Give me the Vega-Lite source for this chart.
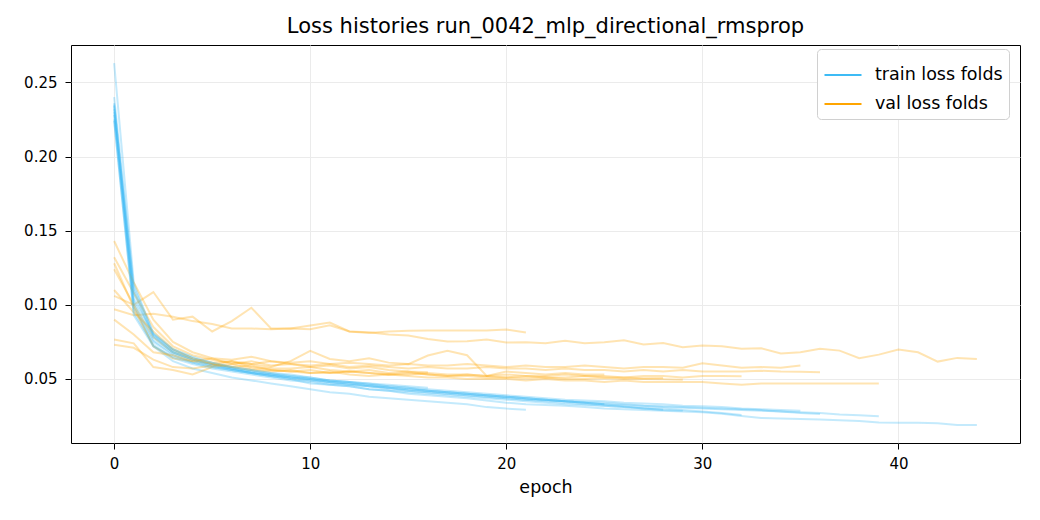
{
  "$schema": "https://vega.github.io/schema/vega-lite/v6.json",
  "width": 949,
  "height": 398,
  "autosize": "none",
  "padding": {"left": 71, "top": 45, "right": 20, "bottom": 77},
  "title": {"text": "Loss histories run_0042_mlp_directional_rmsprop", "fontSize": 21, "font": "DejaVu Sans", "fontWeight": "normal", "color": "black", "offset": 8},
  "data": {
    "values": [
      {"fold":1,"epoch":0,"train":0.230,"val":0.106},{"fold":1,"epoch":1,"train":0.100,"val":0.100},{"fold":1,"epoch":2,"train":0.072,"val":0.1086},{"fold":1,"epoch":3,"train":0.062,"val":0.090},{"fold":1,"epoch":4,"train":0.057,"val":0.092},{"fold":1,"epoch":5,"train":0.054,"val":0.082},{"fold":1,"epoch":6,"train":0.051,"val":0.089},{"fold":1,"epoch":7,"train":0.049,"val":0.098},{"fold":1,"epoch":8,"train":0.047,"val":0.084},{"fold":1,"epoch":9,"train":0.045,"val":0.084},{"fold":1,"epoch":10,"train":0.043,"val":0.086},{"fold":1,"epoch":11,"train":0.041,"val":0.088},{"fold":1,"epoch":12,"train":0.040,"val":0.082},{"fold":1,"epoch":13,"train":0.038,"val":0.081},{"fold":1,"epoch":14,"train":0.037,"val":0.082},{"fold":1,"epoch":15,"train":0.036,"val":0.0825},{"fold":1,"epoch":16,"train":0.035,"val":0.0826},{"fold":1,"epoch":17,"train":0.034,"val":0.0826},{"fold":1,"epoch":18,"train":0.033,"val":0.0826},{"fold":1,"epoch":19,"train":0.031,"val":0.0826},{"fold":1,"epoch":20,"train":0.030,"val":0.0833},{"fold":1,"epoch":21,"train":0.0293,"val":0.0813},

      {"fold":2,"epoch":0,"train":0.263,"val":0.097},{"fold":2,"epoch":1,"train":0.115,"val":0.093},{"fold":2,"epoch":2,"train":0.080,"val":0.094},{"fold":2,"epoch":3,"train":0.070,"val":0.092},{"fold":2,"epoch":4,"train":0.064,"val":0.089},{"fold":2,"epoch":5,"train":0.060,"val":0.087},{"fold":2,"epoch":6,"train":0.057,"val":0.084},{"fold":2,"epoch":7,"train":0.054,"val":0.084},{"fold":2,"epoch":8,"train":0.052,"val":0.0835},{"fold":2,"epoch":9,"train":0.050,"val":0.084},{"fold":2,"epoch":10,"train":0.047,"val":0.0835},{"fold":2,"epoch":11,"train":0.046,"val":0.0862},{"fold":2,"epoch":12,"train":0.045,"val":0.082},{"fold":2,"epoch":13,"train":0.043,"val":0.0815},{"fold":2,"epoch":14,"train":0.042,"val":0.080},{"fold":2,"epoch":15,"train":0.040,"val":0.0793},{"fold":2,"epoch":16,"train":0.039,"val":0.077},{"fold":2,"epoch":17,"train":0.038,"val":0.0752},{"fold":2,"epoch":18,"train":0.037,"val":0.0755},{"fold":2,"epoch":19,"train":0.0355,"val":0.0766},{"fold":2,"epoch":20,"train":0.034,"val":0.0745},{"fold":2,"epoch":21,"train":0.033,"val":0.0748},{"fold":2,"epoch":22,"train":0.0325,"val":0.0741},{"fold":2,"epoch":23,"train":0.032,"val":0.0757},{"fold":2,"epoch":24,"train":0.031,"val":0.0741},{"fold":2,"epoch":25,"train":0.030,"val":0.0748},{"fold":2,"epoch":26,"train":0.0295,"val":0.0761},{"fold":2,"epoch":27,"train":0.029,"val":0.0732},{"fold":2,"epoch":28,"train":0.0285,"val":0.0743},{"fold":2,"epoch":29,"train":0.028,"val":0.0714},{"fold":2,"epoch":30,"train":0.0275,"val":0.0725},{"fold":2,"epoch":31,"train":0.0265,"val":0.0721},{"fold":2,"epoch":32,"train":0.025,"val":0.0703},{"fold":2,"epoch":33,"train":0.0237,"val":0.0707},{"fold":2,"epoch":34,"train":0.0234,"val":0.0672},{"fold":2,"epoch":35,"train":0.023,"val":0.068},{"fold":2,"epoch":36,"train":0.0227,"val":0.0703},{"fold":2,"epoch":37,"train":0.0222,"val":0.0691},{"fold":2,"epoch":38,"train":0.0217,"val":0.064},{"fold":2,"epoch":39,"train":0.0207,"val":0.0664},{"fold":2,"epoch":40,"train":0.0205,"val":0.0698},{"fold":2,"epoch":41,"train":0.0204,"val":0.068},{"fold":2,"epoch":42,"train":0.0202,"val":0.0617},{"fold":2,"epoch":43,"train":0.019,"val":0.0642},{"fold":2,"epoch":44,"train":0.0189,"val":0.0635},

      {"fold":3,"epoch":0,"train":0.228,"val":0.124},{"fold":3,"epoch":1,"train":0.098,"val":0.100},{"fold":3,"epoch":2,"train":0.075,"val":0.078},{"fold":3,"epoch":3,"train":0.066,"val":0.068},{"fold":3,"epoch":4,"train":0.061,"val":0.063},{"fold":3,"epoch":5,"train":0.058,"val":0.060},{"fold":3,"epoch":6,"train":0.056,"val":0.058},{"fold":3,"epoch":7,"train":0.054,"val":0.059},{"fold":3,"epoch":8,"train":0.052,"val":0.056},{"fold":3,"epoch":9,"train":0.050,"val":0.055},{"fold":3,"epoch":10,"train":0.049,"val":0.054},{"fold":3,"epoch":11,"train":0.047,"val":0.055},{"fold":3,"epoch":12,"train":0.046,"val":0.053},{"fold":3,"epoch":13,"train":0.045,"val":0.052},{"fold":3,"epoch":14,"train":0.044,"val":0.053},{"fold":3,"epoch":15,"train":0.042,"val":0.052},{"fold":3,"epoch":16,"train":0.041,"val":0.051},{"fold":3,"epoch":17,"train":0.040,"val":0.051},{"fold":3,"epoch":18,"train":0.039,"val":0.050},{"fold":3,"epoch":19,"train":0.038,"val":0.050},{"fold":3,"epoch":20,"train":0.037,"val":0.050},{"fold":3,"epoch":21,"train":0.036,"val":0.049},{"fold":3,"epoch":22,"train":0.0355,"val":0.050},{"fold":3,"epoch":23,"train":0.035,"val":0.049},{"fold":3,"epoch":24,"train":0.034,"val":0.049},{"fold":3,"epoch":25,"train":0.033,"val":0.048},{"fold":3,"epoch":26,"train":0.0325,"val":0.049},{"fold":3,"epoch":27,"train":0.032,"val":0.048},{"fold":3,"epoch":28,"train":0.031,"val":0.048},{"fold":3,"epoch":29,"train":0.0305,"val":0.048},{"fold":3,"epoch":30,"train":0.030,"val":0.048},{"fold":3,"epoch":31,"train":0.0295,"val":0.047},{"fold":3,"epoch":32,"train":0.029,"val":0.046},{"fold":3,"epoch":33,"train":0.0285,"val":0.047},{"fold":3,"epoch":34,"train":0.028,"val":0.047},{"fold":3,"epoch":35,"train":0.0275,"val":0.047},{"fold":3,"epoch":36,"train":0.027,"val":0.047},{"fold":3,"epoch":37,"train":0.026,"val":0.047},{"fold":3,"epoch":38,"train":0.0255,"val":0.047},{"fold":3,"epoch":39,"train":0.0248,"val":0.047},

      {"fold":4,"epoch":0,"train":0.235,"val":0.132},{"fold":4,"epoch":1,"train":0.108,"val":0.108},{"fold":4,"epoch":2,"train":0.078,"val":0.085},{"fold":4,"epoch":3,"train":0.068,"val":0.072},{"fold":4,"epoch":4,"train":0.063,"val":0.066},{"fold":4,"epoch":5,"train":0.060,"val":0.063},{"fold":4,"epoch":6,"train":0.057,"val":0.061},{"fold":4,"epoch":7,"train":0.055,"val":0.060},{"fold":4,"epoch":8,"train":0.053,"val":0.062},{"fold":4,"epoch":9,"train":0.052,"val":0.060},{"fold":4,"epoch":10,"train":0.050,"val":0.059},{"fold":4,"epoch":11,"train":0.048,"val":0.060},{"fold":4,"epoch":12,"train":0.047,"val":0.058},{"fold":4,"epoch":13,"train":0.046,"val":0.059},{"fold":4,"epoch":14,"train":0.044,"val":0.058},{"fold":4,"epoch":15,"train":0.043,"val":0.057},{"fold":4,"epoch":16,"train":0.042,"val":0.058},{"fold":4,"epoch":17,"train":0.041,"val":0.057},{"fold":4,"epoch":18,"train":0.040,"val":0.057},{"fold":4,"epoch":19,"train":0.039,"val":0.058},{"fold":4,"epoch":20,"train":0.038,"val":0.057},{"fold":4,"epoch":21,"train":0.037,"val":0.057},{"fold":4,"epoch":22,"train":0.036,"val":0.056},{"fold":4,"epoch":23,"train":0.035,"val":0.057},{"fold":4,"epoch":24,"train":0.0345,"val":0.056},{"fold":4,"epoch":25,"train":0.034,"val":0.056},{"fold":4,"epoch":26,"train":0.033,"val":0.055},{"fold":4,"epoch":27,"train":0.032,"val":0.056},{"fold":4,"epoch":28,"train":0.0315,"val":0.055},{"fold":4,"epoch":29,"train":0.031,"val":0.056},{"fold":4,"epoch":30,"train":0.0305,"val":0.055},{"fold":4,"epoch":31,"train":0.030,"val":0.055},{"fold":4,"epoch":32,"train":0.0295,"val":0.055},{"fold":4,"epoch":33,"train":0.029,"val":0.0555},{"fold":4,"epoch":34,"train":0.028,"val":0.055},{"fold":4,"epoch":35,"train":0.027,"val":0.0548},{"fold":4,"epoch":36,"train":0.0264,"val":0.0545},

      {"fold":5,"epoch":0,"train":0.232,"val":0.143},{"fold":5,"epoch":1,"train":0.104,"val":0.115},{"fold":5,"epoch":2,"train":0.080,"val":0.090},{"fold":5,"epoch":3,"train":0.069,"val":0.075},{"fold":5,"epoch":4,"train":0.064,"val":0.068},{"fold":5,"epoch":5,"train":0.061,"val":0.064},{"fold":5,"epoch":6,"train":0.058,"val":0.063},{"fold":5,"epoch":7,"train":0.056,"val":0.065},{"fold":5,"epoch":8,"train":0.054,"val":0.062},{"fold":5,"epoch":9,"train":0.053,"val":0.061},{"fold":5,"epoch":10,"train":0.051,"val":0.062},{"fold":5,"epoch":11,"train":0.049,"val":0.060},{"fold":5,"epoch":12,"train":0.048,"val":0.061},{"fold":5,"epoch":13,"train":0.047,"val":0.060},{"fold":5,"epoch":14,"train":0.045,"val":0.059},{"fold":5,"epoch":15,"train":0.044,"val":0.060},{"fold":5,"epoch":16,"train":0.043,"val":0.059},{"fold":5,"epoch":17,"train":0.042,"val":0.059},{"fold":5,"epoch":18,"train":0.041,"val":0.060},{"fold":5,"epoch":19,"train":0.040,"val":0.059},{"fold":5,"epoch":20,"train":0.039,"val":0.058},{"fold":5,"epoch":21,"train":0.038,"val":0.059},{"fold":5,"epoch":22,"train":0.037,"val":0.058},{"fold":5,"epoch":23,"train":0.036,"val":0.058},{"fold":5,"epoch":24,"train":0.0355,"val":0.059},{"fold":5,"epoch":25,"train":0.035,"val":0.058},{"fold":5,"epoch":26,"train":0.034,"val":0.057},{"fold":5,"epoch":27,"train":0.0335,"val":0.058},{"fold":5,"epoch":28,"train":0.033,"val":0.058},{"fold":5,"epoch":29,"train":0.032,"val":0.0575},{"fold":5,"epoch":30,"train":0.0315,"val":0.0605},{"fold":5,"epoch":31,"train":0.031,"val":0.059},{"fold":5,"epoch":32,"train":0.030,"val":0.0575},{"fold":5,"epoch":33,"train":0.0295,"val":0.058},{"fold":5,"epoch":34,"train":0.029,"val":0.0575},{"fold":5,"epoch":35,"train":0.0286,"val":0.059},

      {"fold":6,"epoch":0,"train":0.224,"val":0.128},{"fold":6,"epoch":1,"train":0.095,"val":0.098},{"fold":6,"epoch":2,"train":0.073,"val":0.072},{"fold":6,"epoch":3,"train":0.064,"val":0.064},{"fold":6,"epoch":4,"train":0.060,"val":0.062},{"fold":6,"epoch":5,"train":0.057,"val":0.060},{"fold":6,"epoch":6,"train":0.055,"val":0.058},{"fold":6,"epoch":7,"train":0.053,"val":0.056},{"fold":6,"epoch":8,"train":0.051,"val":0.055},{"fold":6,"epoch":9,"train":0.049,"val":0.056},{"fold":6,"epoch":10,"train":0.048,"val":0.054},{"fold":6,"epoch":11,"train":0.046,"val":0.054},{"fold":6,"epoch":12,"train":0.045,"val":0.055},{"fold":6,"epoch":13,"train":0.043,"val":0.054},{"fold":6,"epoch":14,"train":0.042,"val":0.053},{"fold":6,"epoch":15,"train":0.041,"val":0.053},{"fold":6,"epoch":16,"train":0.040,"val":0.054},{"fold":6,"epoch":17,"train":0.039,"val":0.053},{"fold":6,"epoch":18,"train":0.038,"val":0.053},{"fold":6,"epoch":19,"train":0.037,"val":0.052},{"fold":6,"epoch":20,"train":0.036,"val":0.053},{"fold":6,"epoch":21,"train":0.035,"val":0.052},{"fold":6,"epoch":22,"train":0.034,"val":0.052},{"fold":6,"epoch":23,"train":0.033,"val":0.053},{"fold":6,"epoch":24,"train":0.0325,"val":0.052},{"fold":6,"epoch":25,"train":0.032,"val":0.052},{"fold":6,"epoch":26,"train":0.031,"val":0.051},{"fold":6,"epoch":27,"train":0.0305,"val":0.052},{"fold":6,"epoch":28,"train":0.030,"val":0.052},{"fold":6,"epoch":29,"train":0.029,"val":0.051},{"fold":6,"epoch":30,"train":0.028,"val":0.052},{"fold":6,"epoch":31,"train":0.027,"val":0.052},{"fold":6,"epoch":32,"train":0.0257,"val":0.0518},

      {"fold":7,"epoch":0,"train":0.234,"val":0.110},{"fold":7,"epoch":1,"train":0.110,"val":0.095},{"fold":7,"epoch":2,"train":0.079,"val":0.082},{"fold":7,"epoch":3,"train":0.068,"val":0.070},{"fold":7,"epoch":4,"train":0.063,"val":0.064},{"fold":7,"epoch":5,"train":0.059,"val":0.061},{"fold":7,"epoch":6,"train":0.057,"val":0.062},{"fold":7,"epoch":7,"train":0.055,"val":0.058},{"fold":7,"epoch":8,"train":0.053,"val":0.057},{"fold":7,"epoch":9,"train":0.051,"val":0.057},{"fold":7,"epoch":10,"train":0.050,"val":0.058},{"fold":7,"epoch":11,"train":0.048,"val":0.056},{"fold":7,"epoch":12,"train":0.047,"val":0.055},{"fold":7,"epoch":13,"train":0.045,"val":0.056},{"fold":7,"epoch":14,"train":0.044,"val":0.054},{"fold":7,"epoch":15,"train":0.043,"val":0.055},{"fold":7,"epoch":16,"train":0.042,"val":0.053},{"fold":7,"epoch":17,"train":0.041,"val":0.052},{"fold":7,"epoch":18,"train":0.040,"val":0.052},{"fold":7,"epoch":19,"train":0.039,"val":0.051},{"fold":7,"epoch":20,"train":0.038,"val":0.051},{"fold":7,"epoch":21,"train":0.037,"val":0.0505},{"fold":7,"epoch":22,"train":0.036,"val":0.051},{"fold":7,"epoch":23,"train":0.035,"val":0.050},{"fold":7,"epoch":24,"train":0.034,"val":0.050},{"fold":7,"epoch":25,"train":0.033,"val":0.0505},{"fold":7,"epoch":26,"train":0.0315,"val":0.050},{"fold":7,"epoch":27,"train":0.030,"val":0.050},{"fold":7,"epoch":28,"train":0.029,"val":0.0498},{"fold":7,"epoch":29,"train":0.0286,"val":0.0495},

      {"fold":8,"epoch":0,"train":0.236,"val":0.0766},{"fold":8,"epoch":1,"train":0.102,"val":0.074},{"fold":8,"epoch":2,"train":0.076,"val":0.058},{"fold":8,"epoch":3,"train":0.067,"val":0.056},{"fold":8,"epoch":4,"train":0.062,"val":0.053},{"fold":8,"epoch":5,"train":0.059,"val":0.058},{"fold":8,"epoch":6,"train":0.056,"val":0.060},{"fold":8,"epoch":7,"train":0.054,"val":0.057},{"fold":8,"epoch":8,"train":0.052,"val":0.056},{"fold":8,"epoch":9,"train":0.051,"val":0.055},{"fold":8,"epoch":10,"train":0.049,"val":0.056},{"fold":8,"epoch":11,"train":0.048,"val":0.054},{"fold":8,"epoch":12,"train":0.046,"val":0.055},{"fold":8,"epoch":13,"train":0.045,"val":0.054},{"fold":8,"epoch":14,"train":0.043,"val":0.053},{"fold":8,"epoch":15,"train":0.042,"val":0.054},{"fold":8,"epoch":16,"train":0.041,"val":0.053},{"fold":8,"epoch":17,"train":0.040,"val":0.052},{"fold":8,"epoch":18,"train":0.039,"val":0.053},{"fold":8,"epoch":19,"train":0.038,"val":0.052},{"fold":8,"epoch":20,"train":0.037,"val":0.051},{"fold":8,"epoch":21,"train":0.036,"val":0.052},{"fold":8,"epoch":22,"train":0.035,"val":0.051},{"fold":8,"epoch":23,"train":0.034,"val":0.051},{"fold":8,"epoch":24,"train":0.033,"val":0.052},{"fold":8,"epoch":25,"train":0.032,"val":0.051},{"fold":8,"epoch":26,"train":0.031,"val":0.051},{"fold":8,"epoch":27,"train":0.030,"val":0.0505},{"fold":8,"epoch":28,"train":0.0292,"val":0.0507},

      {"fold":9,"epoch":0,"train":0.225,"val":0.090},{"fold":9,"epoch":1,"train":0.093,"val":0.080},{"fold":9,"epoch":2,"train":0.072,"val":0.068},{"fold":9,"epoch":3,"train":0.065,"val":0.066},{"fold":9,"epoch":4,"train":0.061,"val":0.062},{"fold":9,"epoch":5,"train":0.058,"val":0.064},{"fold":9,"epoch":6,"train":0.056,"val":0.060},{"fold":9,"epoch":7,"train":0.054,"val":0.062},{"fold":9,"epoch":8,"train":0.053,"val":0.059},{"fold":9,"epoch":9,"train":0.051,"val":0.060},{"fold":9,"epoch":10,"train":0.050,"val":0.058},{"fold":9,"epoch":11,"train":0.049,"val":0.059},{"fold":9,"epoch":12,"train":0.048,"val":0.057},{"fold":9,"epoch":13,"train":0.047,"val":0.058},{"fold":9,"epoch":14,"train":0.046,"val":0.056},{"fold":9,"epoch":15,"train":0.045,"val":0.055},{"fold":9,"epoch":16,"train":0.044,"val":0.0545},

      {"fold":10,"epoch":0,"train":0.240,"val":0.073},{"fold":10,"epoch":1,"train":0.112,"val":0.071},{"fold":10,"epoch":2,"train":0.081,"val":0.063},{"fold":10,"epoch":3,"train":0.070,"val":0.058},{"fold":10,"epoch":4,"train":0.065,"val":0.057},{"fold":10,"epoch":5,"train":0.061,"val":0.059},{"fold":10,"epoch":6,"train":0.058,"val":0.062},{"fold":10,"epoch":7,"train":0.056,"val":0.060},{"fold":10,"epoch":8,"train":0.054,"val":0.058},{"fold":10,"epoch":9,"train":0.052,"val":0.062},{"fold":10,"epoch":10,"train":0.051,"val":0.069},{"fold":10,"epoch":11,"train":0.049,"val":0.0635},{"fold":10,"epoch":12,"train":0.048,"val":0.062},{"fold":10,"epoch":13,"train":0.046,"val":0.064},{"fold":10,"epoch":14,"train":0.045,"val":0.061},{"fold":10,"epoch":15,"train":0.044,"val":0.060},{"fold":10,"epoch":16,"train":0.042,"val":0.0658},{"fold":10,"epoch":17,"train":0.041,"val":0.069},{"fold":10,"epoch":18,"train":0.040,"val":0.066},{"fold":10,"epoch":19,"train":0.039,"val":0.052},{"fold":10,"epoch":20,"train":0.038,"val":0.055},{"fold":10,"epoch":21,"train":0.037,"val":0.054},{"fold":10,"epoch":22,"train":0.036,"val":0.053},{"fold":10,"epoch":23,"train":0.035,"val":0.054},{"fold":10,"epoch":24,"train":0.034,"val":0.053},{"fold":10,"epoch":25,"train":0.033,"val":0.053}
    ]
  },
  "transform": [
    {"fold": ["train", "val"], "as": ["kind", "loss"]}
  ],
  "mark": {"type": "line", "strokeWidth": 2, "opacity": 0.3},
  "encoding": {
    "x": {
      "field": "epoch",
      "type": "quantitative",
      "title": "epoch",
      "scale": {"domain": [-2.2, 46.2], "nice": false, "zero": false},
      "axis": {"values": [0, 10, 20, 30, 40], "format": "d", "labelPadding": 7}
    },
    "y": {
      "field": "loss",
      "type": "quantitative",
      "title": null,
      "scale": {"domain": [0.0068, 0.2752], "nice": false, "zero": false},
      "axis": {"values": [0.05, 0.1, 0.15, 0.2, 0.25], "format": ".2f", "labelPadding": 8}
    },
    "detail": {"field": "fold", "type": "nominal"},
    "color": {
      "field": "kind",
      "type": "nominal",
      "scale": {"domain": ["train", "val"], "range": ["#3dbbf5", "#ffa500"]},
      "legend": {
        "title": null,
        "orient": "none",
        "legendX": 746,
        "legendY": 4,
        "labelExpr": "datum.value == 'train' ? 'train loss folds' : 'val loss folds'",
        "symbolType": "stroke",
        "symbolSize": 1369,
        "symbolStrokeWidth": 2.2,
        "symbolOpacity": 1,
        "labelFontSize": 17.5,
        "labelFont": "DejaVu Sans",
        "labelColor": "black",
        "labelOffset": 12,
        "rowPadding": -13,
        "padding": 6,
        "strokeColor": "#d0d0d0",
        "fillColor": "white",
        "cornerRadius": 4
      }
    }
  },
  "config": {
    "font": "DejaVu Sans",
    "view": {"stroke": "black", "strokeWidth": 1},
    "axis": {
      "domain": false,
      "grid": true,
      "gridColor": "#ebebeb",
      "gridWidth": 1,
      "tickColor": "black",
      "tickSize": 6,
      "labelFontSize": 15,
      "labelColor": "black",
      "labelFont": "DejaVu Sans",
      "titleFontSize": 17.5,
      "titleFontWeight": "normal",
      "titleColor": "black",
      "titleFont": "DejaVu Sans",
      "titlePadding": 7
    }
  }
}
